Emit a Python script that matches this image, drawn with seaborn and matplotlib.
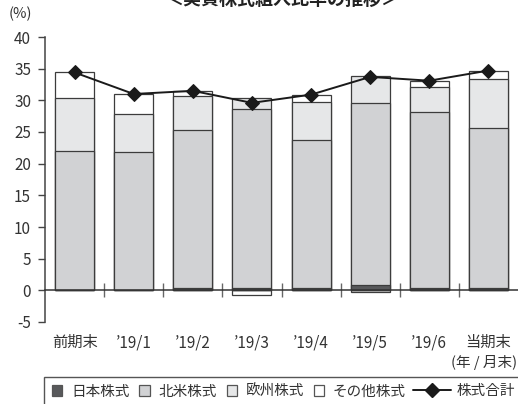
import numpy as np
import pandas as pd
import matplotlib
matplotlib.use("Agg")
import matplotlib.pyplot as plt
import seaborn as sns
from matplotlib.patches import Patch, Rectangle
from matplotlib.lines import Line2D
from matplotlib.legend_handler import HandlerPatch

# 実質株式組入比率（%）
categories = ["前期末", "’19/1", "’19/2", "’19/3", "’19/4", "’19/5", "’19/6", "当期末"]
japan = [0.0, 0.0, 0.3, 0.3, 0.3, 0.8, 0.3, 0.3]
north_america = [22.0, 21.9, 25.0, 28.3, 23.5, 28.8, 27.8, 25.4]
europe = [8.3, 5.9, 5.4, 1.7, 6.0, 4.3, 4.0, 7.7]
other = [4.1, 3.2, 0.8, -0.7, 1.1, -0.2, 1.0, 1.3]
total = [34.4, 31.0, 31.5, 29.6, 30.9, 33.7, 33.1, 34.7]
y_ticks = [-5, 0, 5, 10, 15, 20, 25, 30, 35, 40]

series_names = ["日本株式", "北米株式", "欧州株式", "その他株式"]
series_colors = ["#58595b", "#d1d2d4", "#e6e7e8", "#ffffff"]
total_name = "株式合計"

sns.set_theme(style="white")
plt.rcParams["font.family"] = ["Noto Sans CJK JP", "DejaVu Sans"]
plt.rcParams["axes.unicode_minus"] = False
text_color = "#333333"

W, H = 518, 404
fig = plt.figure(figsize=(W / 100, H / 100), dpi=100)
ax = fig.add_axes([45 / W, 1 - 322 / H, 1 - 45 / W, (322 - 37) / H])

df = pd.DataFrame({"cat": categories, "jp": japan, "na": north_america,
                   "eu": europe, "ot": other})
# cumulative tops for the overlaid stacked bars
df["top_jp"] = df["jp"]
df["top_na"] = df["top_jp"] + df["na"]
df["top_eu"] = df["top_na"] + df["eu"]
df["top_ot"] = np.where(df["ot"] > 0, df["top_eu"] + df["ot"], df["ot"])

edge = "#3c3c3c"
for col, color in zip(["top_ot", "top_eu", "top_na", "top_jp"],
                      series_colors[::-1]):
    sns.barplot(data=df, x="cat", y=col, order=categories, color=color,
                saturation=1, width=0.66, edgecolor=edge, linewidth=0.9,
                ax=ax, zorder=2)

sns.lineplot(x=np.arange(len(categories)), y=total, color="#1a1a1a",
             linewidth=1.4, marker="D", markersize=7.5, markeredgecolor="#1a1a1a",
             ax=ax, zorder=5, legend=False)

ax.set_xlim(-0.5, len(categories) - 0.5)
ax.set_ylim(-5, 40)
ax.set_yticks(y_ticks)
ax.set_xlabel("")
ax.set_ylabel("")

for s in ["top", "right"]:
    ax.spines[s].set_visible(False)
ax.spines["bottom"].set_position(("data", 0))
ax.spines["bottom"].set_color("#333333")
ax.spines["bottom"].set_linewidth(1.1)
ax.spines["left"].set_color("#444444")
ax.spines["left"].set_linewidth(1.1)

ax.tick_params(axis="y", which="major", direction="out", length=5, width=1.0,
               color="#444444", pad=5, labelsize=11, labelcolor=text_color, left=True)
ax.tick_params(axis="x", which="major", length=0, pad=31.5, labelsize=11,
               labelcolor=text_color)
ax.set_xticks(np.arange(0.5, len(categories) - 1, 1.0), minor=True)
ax.tick_params(axis="x", which="minor", direction="inout", length=10, width=1.0,
               color="#666666", bottom=True)

fig.text(282 / W, 1 - 5 / H, "＜実質株式組入比率の推移＞", ha="center", va="baseline",
         fontsize=13, fontweight="bold", color="#222222")
fig.text(20 / W, 1 - 14 / H, "(%)", ha="center", va="center", fontsize=10.5,
         color=text_color)
fig.text(517 / W, 1 - 363 / H, "(年 / 月末)", ha="right", va="center", fontsize=10.5,
         color=text_color)

# legend frame, running past the lower right edge
fig.patches.append(Rectangle((44 / W, -0.1), 1.2, (1 - 377 / H) + 0.1,
                             transform=fig.transFigure, facecolor="none",
                             edgecolor="#555555", linewidth=1.0))


def square(legend, orig_handle, xdescent, ydescent, width, height, fontsize):
    s = min(width, height * 1.0)
    return Rectangle((-xdescent + (width - s) / 2, -ydescent + (height - s) / 2), s, s)


patch_handles = [Patch(facecolor=c, edgecolor="#555555", linewidth=0.9)
                 for c in series_colors]
leg1 = fig.legend(patch_handles, series_names, loc="center left",
                  bbox_to_anchor=(52 / W, 1 - 391.5 / H), ncol=4, frameon=False,
                  handlelength=0.72, handleheight=0.72, handletextpad=0.6,
                  columnspacing=0.65, borderpad=0, borderaxespad=0, fontsize=10.5,
                  labelcolor=text_color,
                  handler_map={Patch: HandlerPatch(patch_func=square)})
line_handle = Line2D([], [], color="#1a1a1a", linewidth=1.4, marker="D",
                     markersize=7)
leg2 = fig.legend([line_handle], [total_name], loc="center left",
                  bbox_to_anchor=(413 / W, 1 - 391.5 / H), frameon=False,
                  handlelength=2.6, handletextpad=0.4, borderpad=0,
                  borderaxespad=0, fontsize=10.5, labelcolor=text_color)

fig.savefig("out.png", dpi=100)
